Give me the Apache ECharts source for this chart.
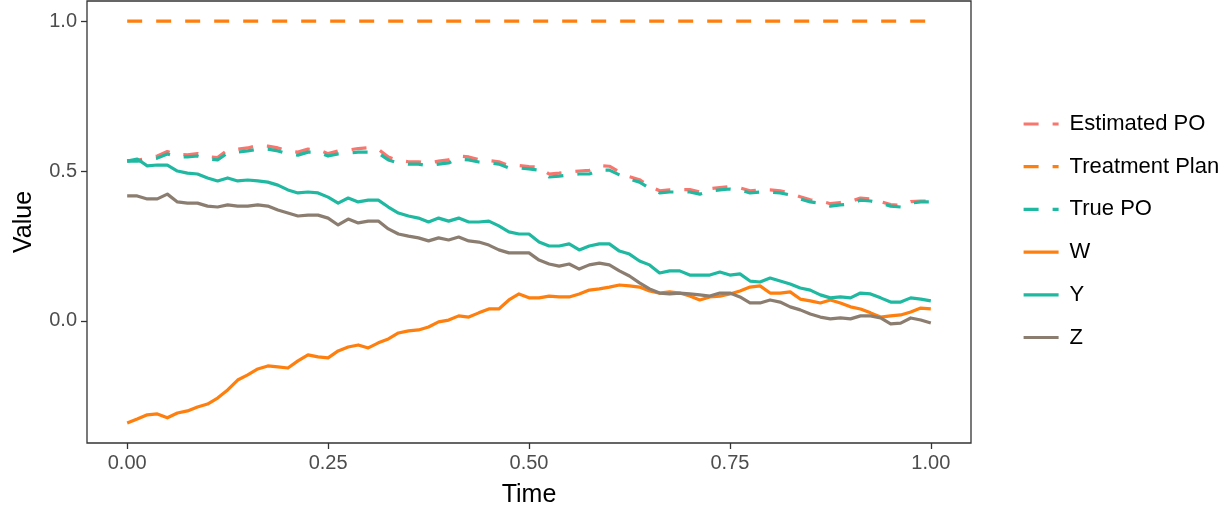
<!DOCTYPE html>
<html><head><meta charset="utf-8">
<script src="https://cdn.jsdelivr.net/npm/echarts@6/dist/echarts.min.js"></script>
<style>html,body{margin:0;padding:0;background:#fff}#c{width:1229px;height:508px}</style>
</head><body><div id="c"></div>
<script>
const time = [0,0.0125,0.025,0.0375,0.05,0.0625,0.075,0.0875,0.1,0.1125,0.125,0.1375,0.15,0.1625,0.175,0.1875,0.2,0.2125,0.225,0.2375,0.25,0.2625,0.275,0.2875,0.3,0.3125,0.325,0.3375,0.35,0.3625,0.375,0.3875,0.4,0.4125,0.425,0.4375,0.45,0.4625,0.475,0.4875,0.5,0.5125,0.525,0.5375,0.55,0.5625,0.575,0.5875,0.6,0.6125,0.625,0.6375,0.65,0.6625,0.675,0.6875,0.7,0.7125,0.725,0.7375,0.75,0.7625,0.775,0.7875,0.8,0.8125,0.825,0.8375,0.85,0.8625,0.875,0.8875,0.9,0.9125,0.925,0.9375,0.95,0.9625,0.975,0.9875,1];
const estimatedPO = [0.535,0.536,0.542,0.550,0.565,0.555,0.554,0.558,0.548,0.545,0.570,0.573,0.577,0.585,0.583,0.577,0.567,0.563,0.573,0.571,0.558,0.567,0.570,0.575,0.578,0.573,0.547,0.535,0.531,0.531,0.527,0.533,0.537,0.550,0.547,0.538,0.535,0.531,0.518,0.518,0.515,0.513,0.490,0.493,0.497,0.500,0.502,0.518,0.516,0.497,0.481,0.471,0.450,0.434,0.437,0.438,0.438,0.430,0.441,0.445,0.448,0.444,0.434,0.437,0.437,0.434,0.427,0.414,0.404,0.400,0.391,0.395,0.398,0.410,0.407,0.398,0.388,0.385,0.398,0.400,0.399];
const truePO = [0.533,0.533,0.537,0.543,0.557,0.547,0.547,0.550,0.540,0.537,0.560,0.563,0.567,0.573,0.573,0.567,0.557,0.553,0.563,0.563,0.550,0.557,0.560,0.563,0.563,0.560,0.537,0.527,0.523,0.523,0.517,0.523,0.527,0.540,0.537,0.530,0.527,0.523,0.510,0.510,0.507,0.503,0.480,0.483,0.487,0.490,0.490,0.503,0.503,0.487,0.473,0.463,0.443,0.427,0.430,0.430,0.430,0.423,0.433,0.437,0.440,0.437,0.427,0.430,0.430,0.427,0.420,0.407,0.397,0.393,0.383,0.387,0.390,0.403,0.400,0.393,0.383,0.380,0.393,0.397,0.397];
const planTime = [0, 1];
const treatmentPlan = [1, 1];
const W = [-0.340,-0.327,-0.313,-0.310,-0.323,-0.307,-0.300,-0.287,-0.277,-0.257,-0.230,-0.197,-0.180,-0.160,-0.150,-0.153,-0.157,-0.133,-0.113,-0.120,-0.123,-0.100,-0.087,-0.080,-0.090,-0.073,-0.060,-0.040,-0.033,-0.030,-0.020,-0.003,0.003,0.017,0.013,0.027,0.040,0.040,0.070,0.090,0.077,0.077,0.083,0.080,0.080,0.090,0.103,0.107,0.113,0.120,0.117,0.113,0.100,0.093,0.097,0.093,0.083,0.070,0.080,0.083,0.090,0.100,0.113,0.117,0.093,0.093,0.097,0.073,0.067,0.060,0.070,0.060,0.047,0.040,0.027,0.013,0.017,0.020,0.030,0.043,0.040];
const Y = [0.533,0.540,0.517,0.520,0.520,0.500,0.493,0.490,0.477,0.467,0.477,0.467,0.470,0.467,0.463,0.453,0.437,0.427,0.430,0.427,0.413,0.393,0.410,0.397,0.403,0.403,0.380,0.360,0.350,0.343,0.330,0.343,0.333,0.343,0.330,0.330,0.333,0.317,0.297,0.290,0.290,0.263,0.250,0.250,0.257,0.237,0.250,0.257,0.257,0.233,0.223,0.200,0.187,0.160,0.167,0.167,0.153,0.153,0.153,0.163,0.153,0.157,0.133,0.130,0.143,0.133,0.123,0.110,0.103,0.087,0.077,0.080,0.077,0.093,0.090,0.077,0.063,0.063,0.077,0.073,0.067];
const Z = [0.417,0.417,0.407,0.407,0.423,0.397,0.393,0.393,0.383,0.380,0.387,0.383,0.383,0.387,0.383,0.370,0.360,0.350,0.353,0.353,0.343,0.320,0.340,0.327,0.333,0.333,0.307,0.290,0.283,0.277,0.267,0.277,0.270,0.280,0.267,0.263,0.253,0.237,0.227,0.227,0.227,0.203,0.190,0.183,0.190,0.173,0.187,0.193,0.187,0.167,0.150,0.127,0.107,0.093,0.090,0.093,0.090,0.087,0.083,0.093,0.093,0.080,0.060,0.060,0.070,0.063,0.047,0.037,0.023,0.013,0.007,0.010,0.007,0.017,0.017,0.010,-0.010,-0.007,0.010,0.003,-0.007];
const xTicks = [0, 0.25, 0.5, 0.75, 1];
const yTicks = [0, 0.5, 1];
const seriesNames = ['Estimated PO', 'Treatment Plan', 'True PO', 'W', 'Y', 'Z'];

const COL = {salmon:'#F8766D', orange:'#FF7F0E', teal:'#1FB9A2', taupe:'#8B7D70'};
const FONT = 'Liberation Sans, Arial, Helvetica, sans-serif';
const zip = (xs, ys) => xs.map((x, i) => [x, ys[i]]);
const DASH = [15, 14];

function mk(name, xs, ys, color, dashed) {
  return {
    name, type: 'line', data: zip(xs, ys), symbol: 'none', showSymbol: false,
    lineStyle: {color, width: 3.2, type: dashed ? DASH : 'solid', cap: 'butt', join: 'round'},
    itemStyle: {color}, emphasis: {disabled: true}, silent: true, clip: true
  };
}

const chart = echarts.init(document.getElementById('c'), null, {renderer: 'canvas'});
chart.setOption({
  animation: false,
  backgroundColor: '#ffffff',
  grid: {left: 87, right: 258, top: 1, bottom: 65, show: true, borderColor: '#333333', borderWidth: 1.3, backgroundColor: 'transparent', containLabel: false, outerBoundsMode: 'none'},
  xAxis: {
    type: 'value', min: -0.05, max: 1.05,
    axisLine: {show: false, onZero: false},
    axisTick: {show: true, customValues: xTicks, length: 6, lineStyle: {color: '#333333', width: 1.3}},
    axisLabel: {customValues: xTicks, formatter: v => v.toFixed(2), fontSize: 20, color: '#4D4D4D', margin: 10, fontFamily: FONT},
    splitLine: {show: false},
    name: 'Time', nameLocation: 'middle', nameGap: 40,
    nameTextStyle: {fontSize: 25, color: '#000', fontFamily: FONT}
  },
  yAxis: {
    type: 'value', min: -0.407, max: 1.067,
    axisLine: {show: false, onZero: false},
    axisTick: {show: true, customValues: yTicks, length: 6, lineStyle: {color: '#333333', width: 1.3}},
    axisLabel: {customValues: yTicks, formatter: v => v.toFixed(1), fontSize: 20, color: '#4D4D4D', margin: 10, fontFamily: FONT},
    splitLine: {show: false},
    name: 'Value', nameLocation: 'middle', nameGap: 50, nameRotate: 90,
    nameTextStyle: {fontSize: 25, color: '#000', fontFamily: FONT}
  },
  legend: {
    orient: 'vertical', left: 1017, top: 108,
    itemWidth: 35, itemHeight: 22, itemGap: 20.7,
    data: seriesNames,
    itemStyle: {opacity: 0, borderWidth: 0},
    lineStyle: {width: 3.2},
    textStyle: {fontSize: 22, lineHeight: 22, color: '#000', fontFamily: FONT, padding: [0, 0, 0, 6]},
    selectedMode: false
  },
  series: [
    mk('Estimated PO', time, estimatedPO, COL.salmon, true),
    mk('Treatment Plan', planTime, treatmentPlan, COL.orange, true),
    mk('True PO', time, truePO, COL.teal, true),
    mk('W', time, W, COL.orange, false),
    mk('Y', time, Y, COL.teal, false),
    mk('Z', time, Z, COL.taupe, false)
  ]
});
</script></body></html>
